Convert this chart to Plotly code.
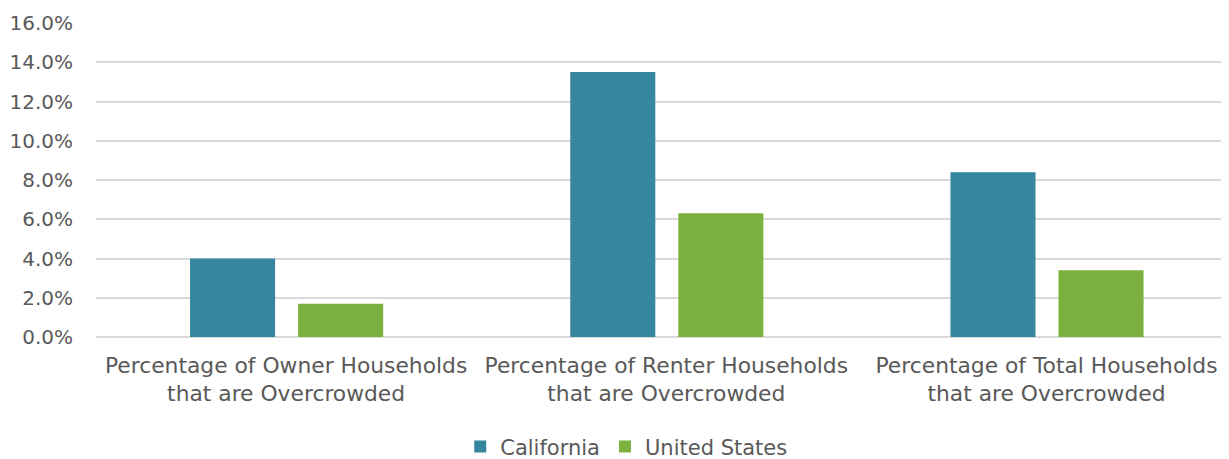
import plotly.graph_objects as go

categories = [
    "Percentage of Owner Households<br>that are Overcrowded",
    "Percentage of Renter Households<br>that are Overcrowded",
    "Percentage of Total Households<br>that are Overcrowded",
]
california = [0.040, 0.135, 0.084]
united_states = [0.017, 0.063, 0.034]
tick_vals = [0, 0.02, 0.04, 0.06, 0.08, 0.10, 0.12, 0.14, 0.16]

FONT = "DejaVu Sans"
TXT = "#595959"

fig = go.Figure()
fig.add_trace(go.Bar(
    x=categories, y=california, name="California",
    marker=dict(color="#36869F", line=dict(width=0)),
    width=0.2237, offset=-0.2526,
))
fig.add_trace(go.Bar(
    x=categories, y=united_states, name="United States",
    marker=dict(color="#7BB13F", line=dict(width=0)),
    width=0.2237, offset=0.0316,
))

fig.update_layout(
    width=1221, height=451,
    margin=dict(l=88, r=0, t=15, b=122, autoexpand=False),
    paper_bgcolor="white", plot_bgcolor="white",
    barmode="overlay",
    font=dict(family=FONT, size=20, color=TXT),
    showlegend=True,
    legend=dict(
        orientation="h", x=0.468, xanchor="center", y=-0.35, yanchor="middle",
        font=dict(family=FONT, size=21, color=TXT),
        itemwidth=30, traceorder="normal",
    ),
    xaxis=dict(
        type="category", range=[-0.5, 2.48], automargin=False,
        showgrid=False, showline=False, ticks="", ticklabelstandoff=13,
        tickfont=dict(family=FONT, size=21.8, color=TXT),
    ),
    yaxis=dict(
        range=[0, 0.16], tickvals=tick_vals, tickformat=".1%", automargin=False,
        showgrid=True, gridcolor="#D9D9D9", gridwidth=1.5,
        zeroline=True, zerolinecolor="#D9D9D9", zerolinewidth=1.5,
        showline=False, ticks="", ticklabelstandoff=22,
        tickfont=dict(family=FONT, size=20, color=TXT),
    ),
)

fig.write_html("out.html")
